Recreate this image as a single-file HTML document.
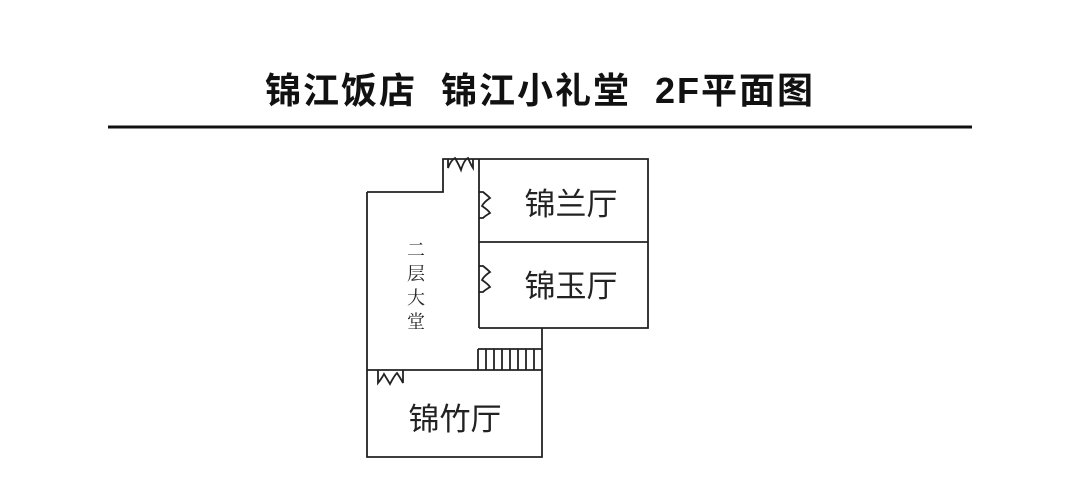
<!DOCTYPE html>
<html><head><meta charset="utf-8"><style>
html,body{margin:0;padding:0;background:#fff;width:1080px;height:478px;overflow:hidden}
.t{position:absolute;left:0;width:1080px;top:62px;text-align:center;font:bold 36px "Liberation Sans","Noto Sans CJK SC",sans-serif;color:#111;letter-spacing:2px;white-space:pre}
</style></head><body>
<div class="t">锦江饭店  锦江小礼堂  2F平面图</div>
<svg width="1080" height="478" style="position:absolute;left:0;top:0" xmlns="http://www.w3.org/2000/svg">
<rect x="108" y="125.5" width="864" height="3" fill="#111"/>
<g fill="none" stroke="#222" stroke-width="1.8">
<path d="M367,192 H443 V159 H479 M479,159 V328 M479,159 H648 V328 H479 M479,242 H648 M542,328 V457 H367 V192 M367,370 H542"/>
<path d="M448,159 V168 Q451,160 455,158 Q459,165 461,170 Q464,160 468,158 Q471,165 473,168 V159"/>
<path d="M479,192 H483 Q488,196 490,198 Q484,202 482,206 Q488,210 490,213 Q485,216 483,218 H479"/>
<path d="M479,266 H483 Q488,270 490,272 Q484,276 482,280 Q488,284 490,287 Q485,290 483,292 H479"/>
<path d="M378,370 V383 Q382,378 384,374 Q387,379 390,384 Q394,376 397,373 Q401,379 403,383 V370"/>
<path d="M478,349 H542 M478,349 V370 M486,349 V370 M494,349 V370 M502,349 V370 M510,349 V370 M518,349 V370 M526,349 V370 M534,349 V370"/>
</g>
<g font-family="Liberation Sans,Noto Sans CJK SC,sans-serif" fill="#222">
<text x="571" y="215" font-size="31" text-anchor="middle">锦兰厅</text>
<text x="571" y="297" font-size="31" text-anchor="middle">锦玉厅</text>
<text x="455" y="430" font-size="31" text-anchor="middle">锦竹厅</text>
<g font-size="18" font-family="Noto Serif CJK SC,serif" text-anchor="middle">
<text x="416" y="256">二</text><text x="416" y="280">层</text><text x="416" y="304">大</text><text x="416" y="328">堂</text>
</g></g>
</svg>
</body></html>
